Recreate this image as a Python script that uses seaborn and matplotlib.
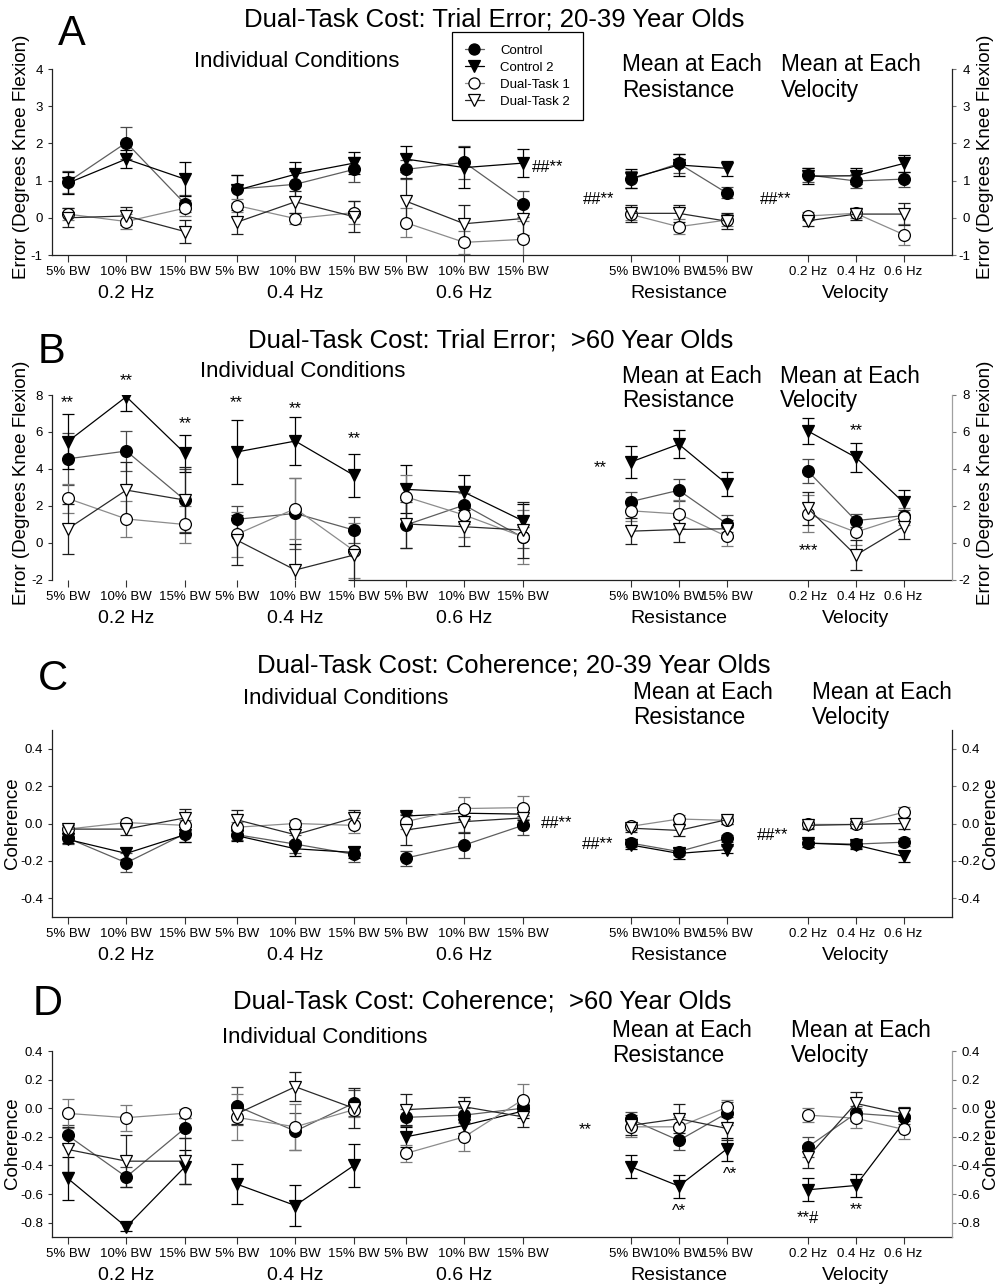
import numpy as np
import pandas as pd
import matplotlib
matplotlib.use("Agg")
import matplotlib.pyplot as plt
import seaborn as sns
from matplotlib.lines import Line2D
from matplotlib.ticker import FuncFormatter

# ---------------- data ----------------
SERIES = ["Control", "Control 2", "Dual-Task 1", "Dual-Task 2"]
BW_LABELS = ["5% BW", "10% BW", "15% BW"]
HZ_LABELS = ["0.2 Hz", "0.4 Hz", "0.6 Hz"]
GROUP_LABELS = ["0.2 Hz", "0.4 Hz", "0.6 Hz", "Resistance", "Velocity"]

# Panel A: trial error, 20-39 yr (individual: 0.2Hz x3, 0.4Hz x3, 0.6Hz x3)
A_ind_ctrl = [0.96, 2.02, 0.38, 0.77, 0.90, 1.30, 1.30, 1.49, 0.37]
A_ind_c2 = [0.93, 1.58, 1.04, 0.74, 1.17, 1.47, 1.58, 1.35, 1.47]
A_ind_dt1 = [0.10, -0.10, 0.26, 0.33, -0.02, 0.14, -0.13, -0.66, -0.58]
A_ind_dt2 = [0.00, 0.05, -0.37, -0.12, 0.43, 0.03, 0.45, -0.16, -0.02]
A_ind_ctrl_e = [0.30, 0.43, 0.22, 0.38, 0.35, 0.33, 0.25, 0.45, 0.35]
A_ind_c2_e = [0.30, 0.25, 0.45, 0.40, 0.32, 0.30, 0.35, 0.55, 0.37]
A_ind_dt1_e = [0.15, 0.20, 0.22, 0.17, 0.15, 0.30, 0.38, 0.30, 0.50]
A_ind_dt2_e = [0.25, 0.25, 0.30, 0.32, 0.30, 0.42, 0.62, 0.50, 0.45]
A_res = [[1.03, 1.46, 0.67], [1.06, 1.42, 1.33], [0.09, -0.24, -0.06], [0.12, 0.12, -0.09]]
A_res_e = [[0.22, 0.25, 0.15], [0.25, 0.30, 0.20], [0.15, 0.20, 0.15], [0.22, 0.22, 0.22]]
A_vel = [[1.15, 0.99, 1.04], [1.12, 1.13, 1.46], [0.05, 0.12, -0.45], [-0.08, 0.10, 0.10]]
A_vel_e = [[0.20, 0.20, 0.20], [0.22, 0.22, 0.22], [0.10, 0.12, 0.28], [0.15, 0.15, 0.30]]

# Panel B: trial error, >60 yr
B_ind_ctrl = [4.55, 4.97, 2.32, 1.28, 1.60, 0.70, 0.97, 2.05, 0.30]
B_ind_c2 = [5.48, 7.91, 4.85, 4.92, 5.51, 3.66, 2.90, 2.74, 1.20]
B_ind_dt1 = [2.41, 1.30, 1.00, 0.47, 1.86, -0.41, 2.50, 1.51, 0.34]
B_ind_dt2 = [0.76, 2.86, 2.32, 0.16, -1.46, -0.65, 1.03, 0.88, 0.70]
B_ind_ctrl_e = [1.40, 1.10, 1.70, 0.72, 1.90, 0.70, 1.25, 1.05, 0.55]
B_ind_c2_e = [1.50, 0.75, 1.00, 1.75, 1.30, 1.15, 1.30, 0.95, 0.90]
B_ind_dt1_e = [0.80, 0.95, 1.00, 1.20, 1.65, 1.50, 1.20, 1.20, 1.45]
B_ind_dt2_e = [1.35, 1.50, 1.80, 1.35, 1.40, 1.35, 1.30, 1.05, 1.50]
B_res = [[2.24, 2.85, 1.05], [4.38, 5.34, 3.20], [1.74, 1.57, 0.36], [0.64, 0.73, 0.77]]
B_res_e = [[0.50, 0.60, 0.45], [0.85, 0.75, 0.65], [0.55, 0.75, 0.50], [0.70, 0.70, 0.50]]
B_vel = [[3.88, 1.21, 1.48], [6.05, 4.63, 2.19], [1.57, 0.59, 1.42], [1.87, -0.66, 0.89]]
B_vel_e = [[0.65, 0.35, 0.30], [0.70, 0.80, 0.65], [1.00, 0.70, 0.45], [0.90, 0.80, 0.65]]

# Panel C: coherence, 20-39 yr
C_ind_ctrl = [-0.078, -0.21, -0.055, -0.06, -0.11, -0.165, -0.185, -0.115, -0.01]
C_ind_c2 = [-0.085, -0.16, -0.06, -0.065, -0.135, -0.155, 0.04, 0.055, 0.05]
C_ind_dt1 = [-0.03, 0.005, -0.01, -0.02, 0.0, -0.01, 0.01, 0.08, 0.085]
C_ind_dt2 = [-0.03, -0.03, 0.03, 0.02, -0.06, 0.03, -0.035, 0.01, 0.03]
C_ind_ctrl_e = [0.03, 0.05, 0.045, 0.03, 0.05, 0.04, 0.04, 0.07, 0.05]
C_ind_c2_e = [0.02, 0.03, 0.04, 0.03, 0.04, 0.03, 0.02, 0.03, 0.03]
C_ind_dt1_e = [0.02, 0.02, 0.03, 0.03, 0.02, 0.04, 0.04, 0.06, 0.06]
C_ind_dt2_e = [0.02, 0.03, 0.05, 0.05, 0.04, 0.04, 0.08, 0.06, 0.04]
C_res = [[-0.105, -0.15, -0.08], [-0.115, -0.16, -0.14], [-0.015, 0.024, 0.017], [-0.025, -0.037, 0.02]]
C_res_e = [[0.02, 0.02, 0.02], [0.02, 0.03, 0.02], [0.02, 0.02, 0.02], [0.02, 0.03, 0.02]]
C_vel = [[-0.105, -0.11, -0.10], [-0.105, -0.115, -0.176], [-0.005, -0.005, 0.06], [-0.01, -0.005, 0.0]]
C_vel_e = [[0.02, 0.02, 0.02], [0.02, 0.02, 0.03], [0.02, 0.02, 0.03], [0.02, 0.02, 0.03]]

# Panel D: coherence, >60 yr
D_ind_ctrl = [-0.19, -0.48, -0.14, 0.015, -0.16, 0.036, -0.064, -0.048, 0.0]
D_ind_c2 = [-0.49, -0.83, -0.41, -0.53, -0.68, -0.40, -0.20, -0.12, -0.02]
D_ind_dt1 = [-0.036, -0.066, -0.035, -0.064, -0.13, -0.01, -0.316, -0.20, 0.06]
D_ind_dt2 = [-0.288, -0.37, -0.37, -0.04, 0.15, 0.0, -0.01, 0.01, -0.06]
D_ind_ctrl_e = [0.07, 0.07, 0.07, 0.13, 0.13, 0.09, 0.06, 0.05, 0.05]
D_ind_c2_e = [0.15, 0.03, 0.12, 0.14, 0.14, 0.15, 0.07, 0.05, 0.05]
D_ind_dt1_e = [0.10, 0.09, 0.03, 0.16, 0.16, 0.05, 0.06, 0.10, 0.11]
D_ind_dt2_e = [0.16, 0.18, 0.16, 0.07, 0.10, 0.14, 0.11, 0.07, 0.07]
D_res = [[-0.078, -0.225, -0.036], [-0.41, -0.544, -0.286], [-0.13, -0.13, 0.006], [-0.12, -0.073, -0.141]]
D_res_e = [[0.05, 0.07, 0.08], [0.08, 0.08, 0.08], [0.07, 0.07, 0.05], [0.07, 0.10, 0.08]]
D_vel = [[-0.27, -0.036, -0.06], [-0.57, -0.54, -0.10], [-0.048, -0.07, -0.148], [-0.34, 0.034, -0.04]]
D_vel_e = [[0.07, 0.05, 0.05], [0.08, 0.08, 0.05], [0.05, 0.07, 0.07], [0.08, 0.08, 0.05]]

# ---------------- style / layout ----------------
sns.set_theme(style="ticks")
plt.rcParams["font.family"] = ["Liberation Sans", "DejaVu Sans"]
plt.rcParams["axes.unicode_minus"] = False
for k in ["text.color", "axes.labelcolor", "xtick.color", "ytick.color", "xtick.labelcolor", "ytick.labelcolor"]:
    plt.rcParams[k] = "black"

W, H = 999, 1285
X_LO, X_HI = 51.7, 952.0
IND_X0, IND_STEP, IND_GROUP = 67.7, 58.6, 169.0
RES_X0, VEL_X0, MEAN_STEP = 631.0, 808.0, 47.8

LCOL = ["#5e5e5e", "#000000", "#8c8c8c", "#2a2a2a"]
ECOL = ["#4a4a4a", "#000000", "#7a7a7a", "#1e1e1e"]
MARK = ["o", "v", "o", "v"]
FACE = ["black", "black", "white", "white"]

ind_pos = [IND_X0 + g * IND_GROUP + k * IND_STEP for g in range(3) for k in range(3)]
res_pos = [RES_X0 + k * MEAN_STEP for k in range(3)]
vel_pos = [VEL_X0 + k * MEAN_STEP for k in range(3)]
all_pos = ind_pos + res_pos + vel_pos
all_ticklabels = BW_LABELS * 3 + BW_LABELS + HZ_LABELS
group_pos = [ind_pos[1], ind_pos[4], ind_pos[7], res_pos[1], vel_pos[1]]


def build_df(ind, ind_e, res, res_e, vel, vel_e):
    rows = []
    for si, name in enumerate(SERIES):
        for i, p in enumerate(ind_pos):
            rows.append(dict(series=name, pos=p, val=ind[si][i], err=ind_e[si][i], seg=i // 3))
        for i, p in enumerate(res_pos):
            rows.append(dict(series=name, pos=p, val=res[si][i], err=res_e[si][i], seg=3))
        for i, p in enumerate(vel_pos):
            rows.append(dict(series=name, pos=p, val=vel[si][i], err=vel_e[si][i], seg=4))
    return pd.DataFrame(rows)


panels = [
    dict(letter="A", df=build_df([A_ind_ctrl, A_ind_c2, A_ind_dt1, A_ind_dt2],
                                 [A_ind_ctrl_e, A_ind_c2_e, A_ind_dt1_e, A_ind_dt2_e],
                                 A_res, A_res_e, A_vel, A_vel_e),
         top=69, bot=255, ylim=(-1, 4), yticks=np.arange(-1, 5, 1), fmt="%d",
         ylabel="Error (Degrees Knee Flexion)", ylab_x=(22, 986), ylab_y=157, rpad=10,
         title="Dual-Task Cost: Trial Error; 20-39 Year Olds", title_xy=(494, 27),
         letter_xy=(58, 45), ind_xy=(297, 67), mean_y=(71, 97), mean_x=(622, 781),
         rspine="#222222", bottom_from=X_LO,
         notes=[("##**", 532, 1.36, "left"), ("##**", 583, 0.48, "left"), ("##**", 760, 0.50, "left")]),
    dict(letter="B", df=build_df([B_ind_ctrl, B_ind_c2, B_ind_dt1, B_ind_dt2],
                                 [B_ind_ctrl_e, B_ind_c2_e, B_ind_dt1_e, B_ind_dt2_e],
                                 B_res, B_res_e, B_vel, B_vel_e),
         top=395, bot=580, ylim=(-2, 8), yticks=np.arange(-2, 9, 2), fmt="%d",
         ylabel="Error (Degrees Knee Flexion)", ylab_x=(22, 986), ylab_y=483, rpad=10,
         title="Dual-Task Cost: Trial Error;  >60 Year Olds", title_xy=(491, 348),
         letter_xy=(38, 363), ind_xy=(303, 377), mean_y=(383, 407), mean_x=(622, 780),
         rspine="#a0a0a0", bottom_from=350,
         notes=[("**", ind_pos[0], 7.6, "center"), ("**", ind_pos[1], 8.8, "center"),
                ("**", ind_pos[2], 6.45, "center"), ("**", ind_pos[3], 7.6, "center"),
                ("**", ind_pos[4], 7.25, "center"), ("**", ind_pos[5], 5.65, "center"),
                ("**", 600, 4.1, "center"), ("**", vel_pos[1], 6.1, "center"),
                ("***", vel_pos[0], -0.4, "center")]),
    dict(letter="C", df=build_df([C_ind_ctrl, C_ind_c2, C_ind_dt1, C_ind_dt2],
                                 [C_ind_ctrl_e, C_ind_c2_e, C_ind_dt1_e, C_ind_dt2_e],
                                 C_res, C_res_e, C_vel, C_vel_e),
         top=730, bot=917, ylim=(-0.5, 0.5), yticks=np.arange(-0.4, 0.41, 0.2), fmt="%.1f",
         ylabel="Coherence", ylab_x=(13, 991), ylab_y=823, rpad=17,
         title="Dual-Task Cost: Coherence; 20-39 Year Olds", title_xy=(514, 673),
         letter_xy=(38, 690), ind_xy=(346, 704), mean_y=(699, 724), mean_x=(633, 812),
         rspine="#222222", bottom_from=X_LO,
         notes=[("##**", 541, 0.0, "left"), ("##**", 582, -0.11, "left"), ("##**", 757, -0.065, "left")]),
    dict(letter="D", df=build_df([D_ind_ctrl, D_ind_c2, D_ind_dt1, D_ind_dt2],
                                 [D_ind_ctrl_e, D_ind_c2_e, D_ind_dt1_e, D_ind_dt2_e],
                                 D_res, D_res_e, D_vel, D_vel_e),
         top=1051, bot=1237, ylim=(-0.9, 0.4), yticks=np.arange(-0.8, 0.41, 0.2), fmt="%.1f",
         ylabel="Coherence", ylab_x=(13, 991), ylab_y=1143, rpad=17,
         title="Dual-Task Cost: Coherence;  >60 Year Olds", title_xy=(482, 1008),
         letter_xy=(33, 1015), ind_xy=(325, 1043), mean_y=(1037, 1062), mean_x=(612, 791),
         rspine="#a0a0a0", bottom_from=X_LO,
         notes=[("**", 585, -0.15, "center"), ("^*", res_pos[1], -0.72, "center"),
                ("^*", 730, -0.466, "center"), ("**#", vel_pos[0], -0.77, "center"),
                ("**", vel_pos[1], -0.71, "center")]),
]

fig = plt.figure(figsize=(W / 100, H / 100), dpi=100)


def ftext(x, y, s, **kw):
    return fig.text(x / W, 1 - y / H, s, **kw)


def make_fmt(fmt):
    return FuncFormatter(lambda v, p: fmt % (round(v, 1) + 0.0))


TICK_FS = 9.5
for P in panels:
    ax = fig.add_axes([X_LO / W, 1 - P["bot"] / H, (X_HI - X_LO) / W, (P["bot"] - P["top"]) / H])
    df = P["df"]
    for si, name in enumerate(SERIES):
        sub = df[df.series == name]
        ax.errorbar(sub.pos, sub.val, yerr=sub.err, fmt="none", ecolor=ECOL[si],
                    elinewidth=0.9, capsize=4.5, capthick=0.9, zorder=2 + 0.1 * si)
    for si, name in enumerate(SERIES):
        sub = df[df.series == name]
        sns.lineplot(data=sub, x="pos", y="val", units="seg", estimator=None, sort=False,
                     color=LCOL[si], marker=MARK[si], markersize=8.5,
                     markerfacecolor=FACE[si], markeredgecolor="black", markeredgewidth=0.9,
                     linewidth=0.9, ax=ax, legend=False, zorder=3 + 0.1 * si)
    yt = np.round(P["yticks"], 1)
    ax.set_xlim(X_LO, X_HI)
    ax.set_ylim(*P["ylim"])
    ax.set_xlabel("")
    ax.set_ylabel("")
    ax.set_xticks(all_pos)
    ax.set_xticklabels(all_ticklabels, fontsize=TICK_FS)
    ax.set_yticks(yt)
    ax.yaxis.set_major_formatter(make_fmt(P["fmt"]))
    ax.tick_params(axis="x", length=5, width=0.8, pad=3.2, color="#333333")
    ax.tick_params(axis="y", length=3, width=0.8, pad=3.4, labelsize=TICK_FS, color="#333333")
    for s in ["top", "right"]:
        ax.spines[s].set_visible(False)
    for s in ["left", "bottom"]:
        ax.spines[s].set_linewidth(0.9)
        ax.spines[s].set_color("#222222")
    ax.spines["bottom"].set_bounds(P["bottom_from"], X_HI)

    ax2 = ax.twinx()
    ax2.set_ylim(*P["ylim"])
    ax2.set_yticks(yt)
    ax2.yaxis.set_major_formatter(make_fmt(P["fmt"]))
    ax2.tick_params(axis="y", length=3, width=0.8, pad=P["rpad"], labelsize=TICK_FS, color="#777777")
    ax2.set_yticklabels([make_fmt(P["fmt"])(v, None) for v in yt], ha="right")
    for s in ["top", "left", "bottom"]:
        ax2.spines[s].set_visible(False)
    ax2.spines["right"].set_color(P["rspine"])
    ax2.spines["right"].set_linewidth(0.9)
    ax2.set_ylabel("")
    ax2.grid(False)

    # group labels under tick labels
    for gx, gl in zip(group_pos, GROUP_LABELS):
        ax.annotate(gl, xy=(gx, 0), xycoords=("data", "axes fraction"), xytext=(0, -28),
                    textcoords="offset points", ha="center", va="center", fontsize=14)

    # significance notes
    for txt, nx, ny, ha in P["notes"]:
        ax.text(nx, ny, txt, ha=ha, va="center", fontsize=12, zorder=6, clip_on=False)

    # axis labels
    ftext(P["ylab_x"][0], P["ylab_y"], P["ylabel"], rotation=90, ha="center", va="center", fontsize=13.5)
    ftext(P["ylab_x"][1], P["ylab_y"], P["ylabel"], rotation=90, ha="center", va="center", fontsize=13.5)

    # titles and headings
    ftext(P["title_xy"][0], P["title_xy"][1], P["title"], ha="center", va="baseline", fontsize=18.5)
    ftext(P["letter_xy"][0], P["letter_xy"][1], P["letter"], ha="left", va="baseline", fontsize=30)
    ftext(P["ind_xy"][0], P["ind_xy"][1], "Individual Conditions", ha="center", va="baseline", fontsize=16)
    for mx, second in zip(P["mean_x"], ["Resistance", "Velocity"]):
        ftext(mx, P["mean_y"][0], "Mean at Each", ha="left", va="baseline", fontsize=16.3)
        ftext(mx, P["mean_y"][1], second, ha="left", va="baseline", fontsize=16.3)

    if P["letter"] == "A":
        handles = [Line2D([], [], color=LCOL[i], marker=MARK[i], markersize=8,
                          markerfacecolor=FACE[i], markeredgecolor="black",
                          markeredgewidth=0.9, linewidth=0.9) for i in range(4)]
        leg = ax.legend(handles, SERIES, loc="upper left", bbox_to_anchor=(452 / W, 1 - 32 / H),
                        bbox_transform=fig.transFigure, borderaxespad=0, fontsize=9.5,
                        frameon=True, fancybox=False, framealpha=1, edgecolor="black",
                        borderpad=0.95, handlelength=1.5, handletextpad=1.2, labelspacing=0.36)
        leg.get_frame().set_linewidth(0.9)
        leg.set_zorder(10)

fig.savefig("out.png", dpi=100)
